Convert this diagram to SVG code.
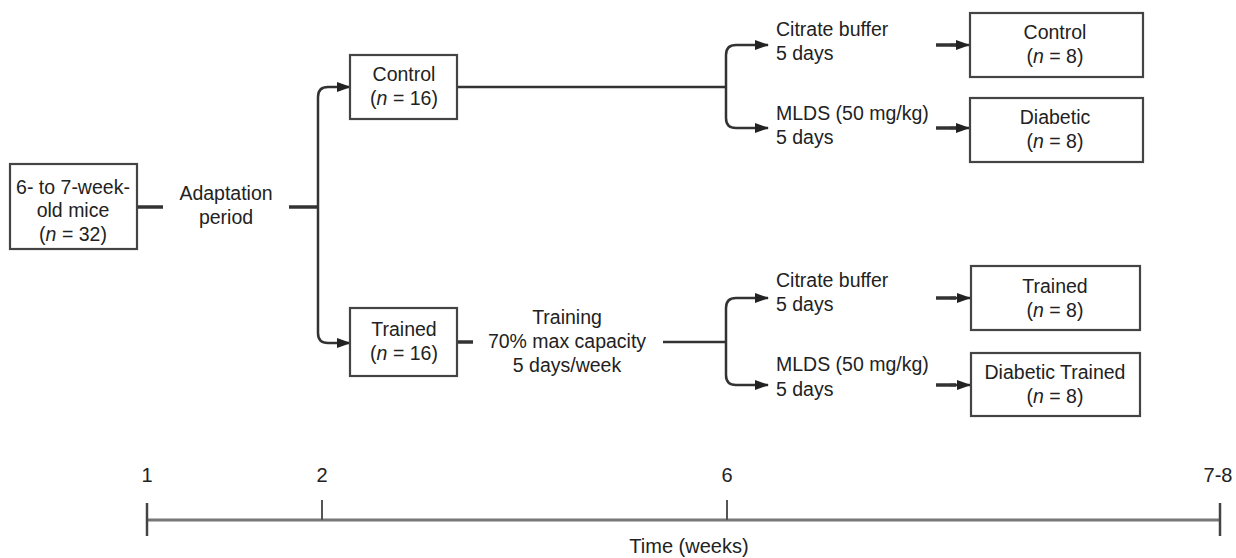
<svg xmlns="http://www.w3.org/2000/svg" width="1236" height="558" viewBox="0 0 1236 558">
<style>
text{font-family:"Liberation Sans",Arial,sans-serif;font-size:19.5px;fill:#222;}
.c{text-anchor:middle;}
.box{fill:#fff;stroke:#444;stroke-width:2.2;}
.ln{fill:none;stroke:#333;stroke-width:2.5;}
.thick{fill:none;stroke:#333;stroke-width:3.5;}
.tl{fill:none;stroke:#777;stroke-width:3;}
.tk{fill:none;stroke:#555;stroke-width:2;}
.tke{fill:none;stroke:#444;stroke-width:2.5;}
.tt{font-size:20px;}
</style>
<defs>
<marker id="ah" markerWidth="14" markerHeight="12" refX="13" refY="6" orient="auto" markerUnits="userSpaceOnUse">
<path d="M0,1 L14,6 L0,11 Z" fill="#222"/>
</marker>
</defs>
<rect width="1236" height="558" fill="#fff"/>
<g id="connectors">
<path class="thick" d="M137,207 H163"/>
<path class="thick" d="M289,207 H318"/>
<path class="ln" d="M318,207 V97 Q318,87 328,87 H350" marker-end="url(#ah)"/>
<path class="ln" d="M318,207 V333 Q318,343 328,343 H350" marker-end="url(#ah)"/>
<path class="ln" d="M457,87 H726"/>
<path class="ln" d="M726,87 V55 Q726,45 736,45 H768" marker-end="url(#ah)"/>
<path class="ln" d="M726,87 V118 Q726,128 736,128 H768" marker-end="url(#ah)"/>
<path class="thick" d="M457,342 H473"/>
<path class="ln" d="M663,342 H726"/>
<path class="ln" d="M726,342 V308 Q726,298 736,298 H768" marker-end="url(#ah)"/>
<path class="ln" d="M726,342 V375 Q726,385 736,385 H768" marker-end="url(#ah)"/>
<path class="thick" d="M936,45 H956"/>
<path class="ln" d="M950,45 H969" marker-end="url(#ah)"/>
<path class="thick" d="M936,128 H956"/>
<path class="ln" d="M950,128 H969" marker-end="url(#ah)"/>
<path class="thick" d="M936,298 H956"/>
<path class="ln" d="M950,298 H970" marker-end="url(#ah)"/>
<path class="thick" d="M936,385 H956"/>
<path class="ln" d="M950,385 H970" marker-end="url(#ah)"/>
</g>
<g id="mice">
<rect class="box" x="10" y="164" width="127" height="85"/>
<text class="c" x="73" y="194">6- to 7-week-</text>
<text class="c" x="73" y="217">old mice</text>
<text class="c" x="73" y="241">(<tspan font-style="italic">n</tspan> = 32)</text>
</g>
<g id="adaptation">
<text class="c" x="226" y="200">Adaptation</text>
<text class="c" x="226" y="224">period</text>
</g>
<g id="control16">
<rect class="box" x="350" y="55" width="107" height="64"/>
<text class="c" x="404" y="81">Control</text>
<text class="c" x="404" y="105">(<tspan font-style="italic">n</tspan> = 16)</text>
</g>
<g id="trained16">
<rect class="box" x="350" y="308" width="107" height="68"/>
<text class="c" x="404" y="336">Trained</text>
<text class="c" x="404" y="360">(<tspan font-style="italic">n</tspan> = 16)</text>
</g>
<g id="training">
<text class="c" x="567" y="324">Training</text>
<text class="c" x="567" y="348">70% max capacity</text>
<text class="c" x="567" y="372">5 days/week</text>
</g>
<g id="citrate1">
<text x="776" y="36">Citrate buffer</text>
<text x="776" y="60">5 days</text>
</g>
<g id="mlds1">
<text x="776" y="120">MLDS (50 mg/kg)</text>
<text x="776" y="144">5 days</text>
</g>
<g id="citrate2">
<text x="776" y="287">Citrate buffer</text>
<text x="776" y="311">5 days</text>
</g>
<g id="mlds2">
<text x="776" y="371">MLDS (50 mg/kg)</text>
<text x="776" y="396">5 days</text>
</g>
<g id="control8">
<rect class="box" x="970" y="13" width="173" height="64"/>
<text class="c" x="1055" y="39">Control</text>
<text class="c" x="1055" y="63">(<tspan font-style="italic">n</tspan> = 8)</text>
</g>
<g id="diabetic8">
<rect class="box" x="970" y="98" width="173" height="64"/>
<text class="c" x="1055" y="124">Diabetic</text>
<text class="c" x="1055" y="148">(<tspan font-style="italic">n</tspan> = 8)</text>
</g>
<g id="trained8">
<rect class="box" x="971" y="266" width="169" height="64"/>
<text class="c" x="1055" y="293">Trained</text>
<text class="c" x="1055" y="317">(<tspan font-style="italic">n</tspan> = 8)</text>
</g>
<g id="diabetictrained8">
<rect class="box" x="971" y="353" width="169" height="63"/>
<text class="c" x="1055" y="379">Diabetic Trained</text>
<text class="c" x="1055" y="403">(<tspan font-style="italic">n</tspan> = 8)</text>
</g>
<g id="timeline">
<path class="tl" d="M147,520 H1220"/>
<path class="tk" d="M322,500 V520 M727,500 V520"/>
<path class="tke" d="M147,503 V536 M1220,503 V536"/>
<text class="c tt" x="147" y="482">1</text>
<text class="c tt" x="322" y="482">2</text>
<text class="c tt" x="727" y="482">6</text>
<text class="c tt" x="1218" y="482">7-8</text>
<text class="c tt" x="689" y="553">Time (weeks)</text>
</g>
</svg>
